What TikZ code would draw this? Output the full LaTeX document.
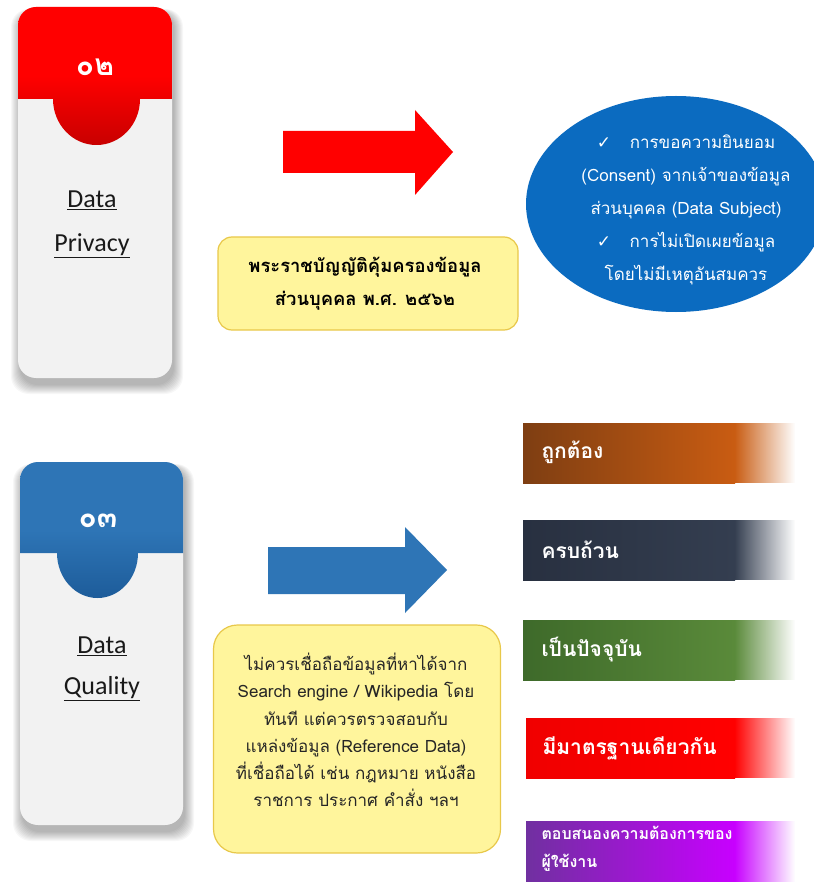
\documentclass[tikz,border=0pt]{standalone}
\usepackage{fontspec}
\setmainfont{Carlito}
\newfontfamily\thai[Script=Thai]{Loma}
\newfontfamily\sym{DejaVu Sans}
\usetikzlibrary{fadings,shapes.geometric}
\tikzfading[name=fadeR, left color=transparent!0, right color=transparent!100]
\definecolor{cred}{HTML}{FF0000}
\definecolor{credd}{HTML}{C80000}
\definecolor{cblue}{HTML}{2E75B6}
\definecolor{cblued}{HTML}{1D5C9A}
\definecolor{cardg}{HTML}{F2F2F2}
\definecolor{yel}{HTML}{FFF59C}
\definecolor{yelb}{HTML}{E8C84A}
\definecolor{ellc}{HTML}{0B6BC0}
\definecolor{b1l}{HTML}{7E3E12}\definecolor{b1r}{HTML}{C95C12}
\definecolor{b2l}{HTML}{283040}\definecolor{b2r}{HTML}{343E50}
\definecolor{b3l}{HTML}{3E6A2A}\definecolor{b3r}{HTML}{5A8A3A}
\definecolor{b4l}{HTML}{F00000}\definecolor{b4r}{HTML}{FF0000}
\definecolor{b5l}{HTML}{7030A0}\definecolor{b5r}{HTML}{C800FF}
\tikzset{
  cardtitle/.style={font=\fontsize{26}{30}\selectfont, text=black!90, align=center},
  cardnum/.style={font=\thai\bfseries\fontsize{30}{34}\selectfont, text=white},
  yelbox/.style={fill=yel, draw=yelb, line width=1.2pt},
  bartext/.style={font=\thai\bfseries\fontsize{21}{26}\selectfont, text=white, anchor=west, align=left},
}
\newcommand{\ul}[1]{\underline{#1}}
\begin{document}
\begin{tikzpicture}[x=1pt,y=-1pt]
\useasboundingbox (0,0) rectangle (813,882);
\fill[white] (0,0) rectangle (813,882);

% ---------- top card ----------
\foreach \i in {1,...,10}
  \fill[black, opacity=0.032, rounded corners=18] (21-\i,12-\i*0.3) rectangle (173+\i,384+\i);
\fill[cardg, rounded corners=18] (18,7) rectangle (172,378);
\begin{scope}
  \clip[rounded corners=18] (18,7) rectangle (172,378);
  \shade[top color=cred, bottom color=credd, middle color=cred]
    (18,7) -- (172,7) -- (172,99) -- (140,99)
    arc[start angle=0, end angle=180, x radius=43.5, y radius=46] -- (18,99) -- cycle;
\end{scope}
\node[cardnum] (n1) at (95,67) {๐๒};
\node[cardtitle] (t1a) at (92,200) {\ul{Data}};
\node[cardtitle] (t1b) at (92,246) {\ul{Privacy}};

% ---------- red arrow ----------
\fill[cred] (283,131) -- (415,131) -- (415,110) -- (453,152) -- (415,195) -- (415,173) -- (283,173) -- cycle;

% ---------- top yellow box ----------
\node[yelbox, rounded corners=14, minimum width=300, minimum height=93] (y1) at (368,283.5) {};
\node[font=\thai\bfseries\fontsize{18.4}{33}\selectfont, align=center] (y1t) at (365,284)
  {พระราชบัญญัติคุ้มครองข้อมูล\\ส่วนบุคคล พ.ศ. ๒๕๖๒};

% ---------- ellipse ----------
\node[ellipse, fill=ellc, minimum width=300, minimum height=216] (el) at (676,204) {};
\node[font=\thai\fontsize{17}{33}\selectfont, text=white, align=center] (elt) at (686,210)
  {{\sym ✓}\hspace{1.1em}การขอความยินยอม\\(Consent) จากเจ้าของข้อมูล\\ส่วนบุคคล (Data Subject)\\{\sym ✓}\hspace{1.1em}การไม่เปิดเผยข้อมูล\\โดยไม่มีเหตุอันสมควร};

% ---------- bottom card ----------
\foreach \i in {1,...,10}
  \fill[black, opacity=0.032, rounded corners=18] (23-\i,467-\i*0.3) rectangle (184+\i,831+\i);
\fill[cardg, rounded corners=18] (20,462) rectangle (183,825);
\begin{scope}
  \clip[rounded corners=18] (20,462) rectangle (183,825);
  \shade[top color=cblue, bottom color=cblued, middle color=cblue]
    (20,462) -- (183,462) -- (183,553) -- (138,553)
    arc[start angle=0, end angle=180, x radius=40.5, y radius=45] -- (20,553) -- cycle;
\end{scope}
\node[cardnum] (n2) at (98,521) {๐๓};
\node[cardtitle] (t2a) at (102,646) {\ul{Data}};
\node[cardtitle] (t2b) at (102,689) {\ul{Quality}};

% ---------- blue arrow ----------
\fill[cblue] (268,547) -- (405,547) -- (405,527) -- (447,570) -- (405,613) -- (405,594) -- (268,594) -- cycle;

% ---------- bottom yellow box ----------
\node[yelbox, rounded corners=24, minimum width=287, minimum height=228] (y2) at (357,739) {};
\node[font=\thai\fontsize{17}{27.2}\selectfont, align=center, text=black!85] (y2t) at (356,730)
  {ไม่ควรเชื่อถือข้อมูลที่หาได้จาก\\Search engine / Wikipedia โดย\\ทันที แต่ควรตรวจสอบกับ\\แหล่งข้อมูล (Reference Data)\\ที่เชื่อถือได้ เช่น กฎหมาย หนังสือ\\ราชการ ประกาศ คำสั่ง ฯลฯ};

% ---------- bars ----------
\newcommand{\qbar}[4]{%
  \shade[left color=#3, right color=#4] (#1,#2) rectangle (735,#2+60);
  \fill[#4, path fading=fadeR] (734.5,#2) rectangle (795,#2+60);
}
\qbar{523}{423}{b1l}{b1r}
\qbar{523}{520}{b2l}{b2r}
\qbar{523}{620}{b3l}{b3r}
\qbar{526}{718}{b4l}{b4r}
\shade[left color=b5l, right color=b5r] (526,821) rectangle (735,882);
\fill[b5r, path fading=fadeR] (734.5,821) rectangle (795,882);

\node[bartext] (q1) at (538,452) {ถูกต้อง};
\node[bartext] (q2) at (538,550) {ครบถ้วน};
\node[bartext] (q3) at (538,650) {เป็นปัจจุบัน};
\node[bartext] (q4) at (539,748) {มีมาตรฐานเดียวกัน};
\node[bartext, font=\thai\bfseries\fontsize{16}{28}\selectfont] (q5) at (538,849) {ตอบสนองความต้องการของ\\ผู้ใช้งาน};
\end{tikzpicture}
\end{document}
